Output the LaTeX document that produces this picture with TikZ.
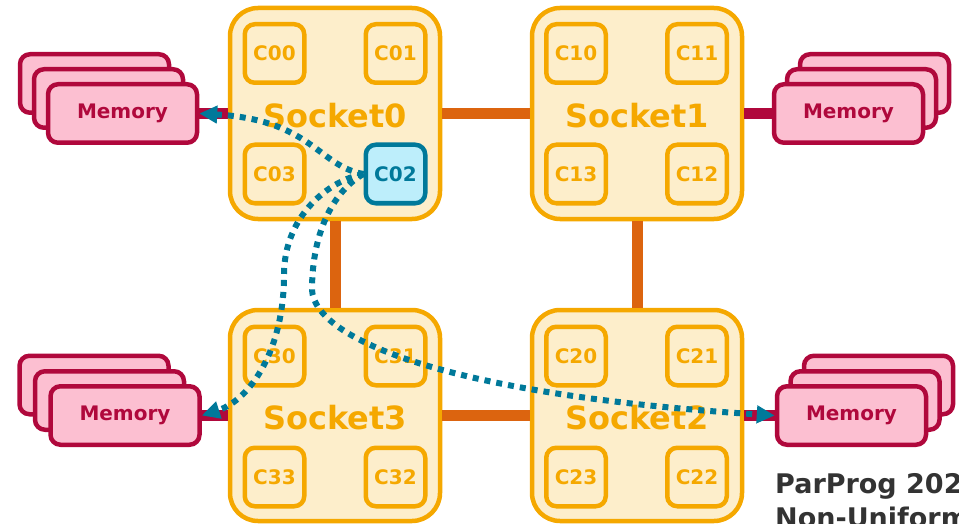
\documentclass[tikz,border=0pt]{standalone}
\usepackage{fontspec}
\setmainfont{DejaVu Sans}
\usetikzlibrary{arrows.meta}
\definecolor{sockborder}{HTML}{F5A800}
\definecolor{sockfill}{HTML}{FDEECB}
\definecolor{linkorange}{HTML}{DC640F}
\definecolor{memborder}{HTML}{B0083C}
\definecolor{memfill}{HTML}{FCBFD1}
\definecolor{tealc}{HTML}{00799A}
\definecolor{cfill}{HTML}{BDEEFB}
\definecolor{textgray}{HTML}{333333}
\begin{document}
\begin{tikzpicture}[x=1pt,y=-1pt,
  socket/.style={draw=sockborder, fill=sockfill, line width=4.5pt, rounded corners=28pt,
    minimum width=210pt, minimum height=211pt, inner sep=0pt},
  socklabel/.style={text=sockborder, font=\bfseries\fontsize{32}{38}\selectfont},
  core/.style={draw=sockborder, line width=4.5pt, rounded corners=10pt,
    minimum width=59.5pt, minimum height=58.5pt, inner sep=0pt, text=sockborder,
    font=\bfseries\fontsize{20}{24}\selectfont},
  hot/.style={core, draw=tealc, fill=cfill, text=tealc},
  mem/.style={draw=memborder, fill=memfill, line width=4.5pt, rounded corners=10pt,
    minimum width=149pt, minimum height=58.5pt, inner sep=0pt, text=memborder,
    font=\bfseries\fontsize{20}{24}\selectfont},
  memlink/.style={draw=memborder, line width=11pt},
  socklink/.style={draw=linkorange, line width=11pt},
  numa/.style={draw=tealc, line width=6pt, dash pattern=on 6pt off 6pt,
    -{Triangle[length=18pt,width=17pt]}},
  note/.style={text=textgray, inner sep=0pt, anchor=base west,
    font=\bfseries\fontsize{27}{34}\selectfont}
]
\useasboundingbox (0,0) rectangle (959,524);
\clip (0,0) rectangle (959,524);

% memory stacks
\node[mem] (mTLc) at (94.5,83.5) {};
\node[mem] (mTLb) at (108.5,98.5) {};
\node[mem] (mTL) at (122.5,113.5) {Memory};

\node[mem] (mTRc) at (874.5,83.5) {};
\node[mem] (mTRb) at (861.5,98.5) {};
\node[mem] (mTR) at (848.5,113.5) {Memory};

\node[mem] (mBLc) at (94,385) {};
\node[mem] (mBLb) at (109.5,400.5) {};
\node[mem] (mBL) at (125,415.5) {Memory};

\node[mem] (mBRc) at (878.5,385) {};
\node[mem] (mBRb) at (865,400.5) {};
\node[mem] (mBR) at (851.5,415.5) {Memory};

% sockets
\node[socket] (s0) at (335,113.5) {};
\node[socket] (s1) at (637,113.5) {};
\node[socket] (s3) at (335,415.5) {};
\node[socket] (s2) at (637,415.5) {};

% links
\draw[socklink] (s0.east) -- (s1.west);
\draw[socklink] (s3.east) -- (s2.west);
\draw[socklink] (s0.south) -- (s3.north);
\draw[socklink] (s1.south) -- (s2.north);
\draw[memlink] (mTL.east) -- (s0.west);
\draw[memlink] (mTR.west) -- (s1.east);
\draw[memlink] (mBL.east) -- (s3.west);
\draw[memlink] (mBR.west) -- (s2.east);

% socket labels
\node[socklabel] (l0) at (335,115.5) {Socket0};
\node[socklabel] (l1) at (637,115.5) {Socket1};
\node[socklabel] (l3) at (335,417.5) {Socket3};
\node[socklabel] (l2) at (637,417.5) {Socket2};

% cores
\node[core] (c00) at (274.5,53.5) {C00};
\node[core] (c01) at (395.5,53.5) {C01};
\node[core] (c03) at (274.5,174) {C03};
\node[hot]  (c02) at (395.5,174) {C02};

\node[core] (c10) at (576,53.5) {C10};
\node[core] (c11) at (697,53.5) {C11};
\node[core] (c13) at (576,174) {C13};
\node[core] (c12) at (697,174) {C12};

\node[core] (c30) at (274.5,356) {C30};
\node[core] (c31) at (395.5,356) {C31};
\node[core] (c33) at (274.5,477) {C33};
\node[core] (c32) at (395.5,477) {C32};

\node[core] (c20) at (576,356) {C20};
\node[core] (c21) at (697,356) {C21};
\node[core] (c23) at (576,477) {C23};
\node[core] (c22) at (697,477) {C22};

% access paths
\draw[numa] (c02.west) .. controls (318,166) and (312,120) .. (mTL.east);
\draw[numa] (c02.west) .. controls (330,180) and (284,215) .. (284,275)
  .. controls (284,350) and (250,400) .. (mBL.east);
\draw[numa] (c02.west) .. controls (335,190) and (312,230) .. (312,290)
  .. controls (315,340) and (450,395) .. (mBR.west);

% footer text
\node[note] (t1) at (775,493) {ParProg 202};
\node[note] (t2) at (775,527) {Non-Uniform};
\end{tikzpicture}
\end{document}
